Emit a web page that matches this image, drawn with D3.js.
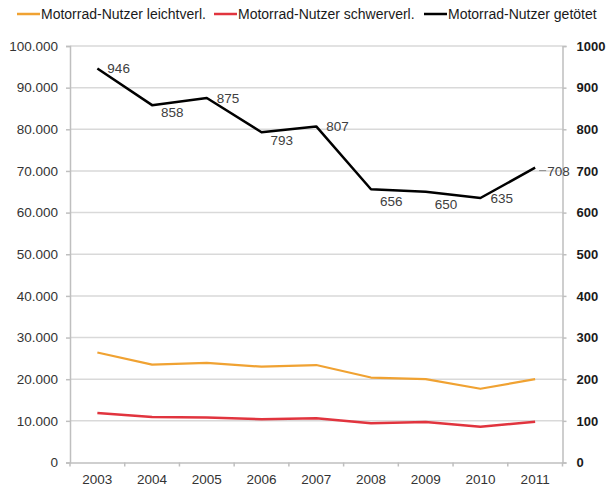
<!DOCTYPE html>
<html>
<head>
<meta charset="utf-8">
<script src="https://cdn.jsdelivr.net/npm/d3@7/dist/d3.min.js"></script>
<style>
  html, body { margin: 0; padding: 0; background: #fff; }
  svg { display: block; font-family: "Liberation Sans", Arial, sans-serif; }
</style>
</head>
<body>
<svg id="chart" width="606" height="490"></svg>
<script>
// Motorcycle casualties in Germany, 2003–2011
const years = ["2003", "2004", "2005", "2006", "2007", "2008", "2009", "2010", "2011"];
// injured (left axis)
const leichtverletzt = [26400, 23500, 23900, 23000, 23400, 20400, 20000, 17700, 20000];
const schwerverletzt = [11900, 10900, 10800, 10400, 10600, 9400, 9700, 8600, 9800];
// killed (right axis)
const getoetet = [946, 858, 875, 793, 807, 656, 650, 635, 708];

const leftTicks = [0, 10000, 20000, 30000, 40000, 50000, 60000, 70000, 80000, 90000, 100000];
const rightTicks = [0, 100, 200, 300, 400, 500, 600, 700, 800, 900, 1000];

const seriesNames = [
  "Motorrad-Nutzer leichtverl.",
  "Motorrad-Nutzer schwerverl.",
  "Motorrad-Nutzer getötet"
];
const seriesColors = ["#f0a232", "#e1343e", "#000000"];

// label placement for the killed series: [dx, dy] from each point
const labelOffsets = [[10, 0], [9, 7], [10, 0], [9, 8], [10, 0], [9, 12], [9, 12], [10, 0], [12, 4]];
// legend item start positions
const legendX = [17, 214, 424];

const svg = d3.select("#chart");
const plot = { left: 70, right: 562.5, top: 46, bottom: 462.5 };

const de = d3.formatLocale({ decimal: ",", thousands: ".", grouping: [3], currency: ["", " €"] });
const fmtLeft = de.format(",.0f");

const x = d3.scaleBand().domain(years).range([plot.left, plot.right]).padding(0);
const cx = d => x(d) + x.bandwidth() / 2;
const yL = d3.scaleLinear().domain([0, 100000]).range([plot.bottom, plot.top]);
const yR = d3.scaleLinear().domain([0, 1000]).range([plot.bottom, plot.top]);

const gridColor = "#d9d9d9";
const axisColor = "#bfbfbf";

// horizontal gridlines
svg.append("g")
  .selectAll("line")
  .data(leftTicks.filter(t => t > 0))
  .join("line")
  .attr("x1", plot.left).attr("x2", plot.right)
  .attr("y1", d => yL(d)).attr("y2", d => yL(d))
  .attr("stroke", gridColor).attr("stroke-width", 1.5);

// left axis
const gLeft = svg.append("g")
  .attr("transform", `translate(${plot.left},0)`)
  .call(d3.axisLeft(yL).tickValues(leftTicks).tickFormat(fmtLeft).tickSize(4).tickPadding(8));
gLeft.select(".domain").attr("stroke", axisColor).attr("stroke-width", 1.5);
gLeft.selectAll(".tick line").attr("stroke", axisColor).attr("stroke-width", 1.5);
gLeft.selectAll(".tick text")
  .attr("fill", "#333").style("font-size", "13.5px")
  .style("font-family", "'Liberation Sans', Arial, sans-serif");

// right axis
const gRight = svg.append("g")
  .attr("transform", `translate(${plot.right},0)`)
  .call(d3.axisRight(yR).tickValues(rightTicks).tickFormat(d3.format("d")).tickSize(4).tickPadding(10));
gRight.select(".domain").attr("stroke", axisColor).attr("stroke-width", 1.5);
gRight.selectAll(".tick line").attr("stroke", axisColor).attr("stroke-width", 1.5);
gRight.selectAll(".tick text")
  .attr("fill", "#1a1a1a").style("font-size", "13px").style("font-weight", "bold")
  .style("font-family", "'Liberation Sans', Arial, sans-serif");

// bottom axis: labels at band centres, tick marks at band boundaries
const gBottom = svg.append("g")
  .attr("transform", `translate(0,${plot.bottom})`)
  .call(d3.axisBottom(x).tickSize(0).tickPadding(12));
gBottom.select(".domain").attr("stroke", axisColor).attr("stroke-width", 1.5);
gBottom.selectAll(".tick text")
  .attr("fill", "#333").style("font-size", "13.5px")
  .style("font-family", "'Liberation Sans', Arial, sans-serif");
gBottom.append("g")
  .selectAll("line")
  .data(years.map(d => x(d)).concat([x.range()[1]]))
  .join("line")
  .attr("x1", d => d).attr("x2", d => d)
  .attr("y1", 0).attr("y2", 4)
  .attr("stroke", axisColor).attr("stroke-width", 1.5);

// lines
const lineL = d3.line().x((d, i) => cx(years[i])).y(d => yL(d));
const lineR = d3.line().x((d, i) => cx(years[i])).y(d => yR(d));

svg.append("path").datum(leichtverletzt)
  .attr("d", lineL).attr("fill", "none")
  .attr("stroke", seriesColors[0]).attr("stroke-width", 2.2).attr("stroke-linejoin", "round");
svg.append("path").datum(schwerverletzt)
  .attr("d", lineL).attr("fill", "none")
  .attr("stroke", seriesColors[1]).attr("stroke-width", 2.5).attr("stroke-linejoin", "round");
svg.append("path").datum(getoetet)
  .attr("d", lineR).attr("fill", "none")
  .attr("stroke", seriesColors[2]).attr("stroke-width", 2.5).attr("stroke-linejoin", "round");

// value labels for the killed series
const labels = svg.append("g")
  .style("font-size", "13.5px").attr("fill", "#404040");
labels.selectAll("text")
  .data(getoetet)
  .join("text")
  .attr("x", (d, i) => cx(years[i]) + labelOffsets[i][0])
  .attr("y", (d, i) => yR(d) + labelOffsets[i][1])
  .attr("dy", "0.35em")
  .text(d => d);

// short leader for the last label
const lastI = getoetet.length - 1;
svg.append("line")
  .attr("x1", cx(years[lastI]) + 4).attr("x2", cx(years[lastI]) + 11)
  .attr("y1", yR(getoetet[lastI]) + 3).attr("y2", yR(getoetet[lastI]) + 3)
  .attr("stroke", "#8c8c8c").attr("stroke-width", 1);

// legend
const legend = svg.append("g").attr("transform", "translate(0,14)");
seriesNames.forEach((name, i) => {
  const item = legend.append("g").attr("transform", `translate(${legendX[i]},0)`);
  item.append("line")
    .attr("x1", 0).attr("x2", 23).attr("y1", 0).attr("y2", 0)
    .attr("stroke", seriesColors[i]).attr("stroke-width", 2.5);
  item.append("text")
    .attr("x", 24).attr("dy", "0.35em")
    .style("font-size", "14px").attr("fill", "#1a1a1a")
    .text(name);
});
</script>
</body>
</html>
